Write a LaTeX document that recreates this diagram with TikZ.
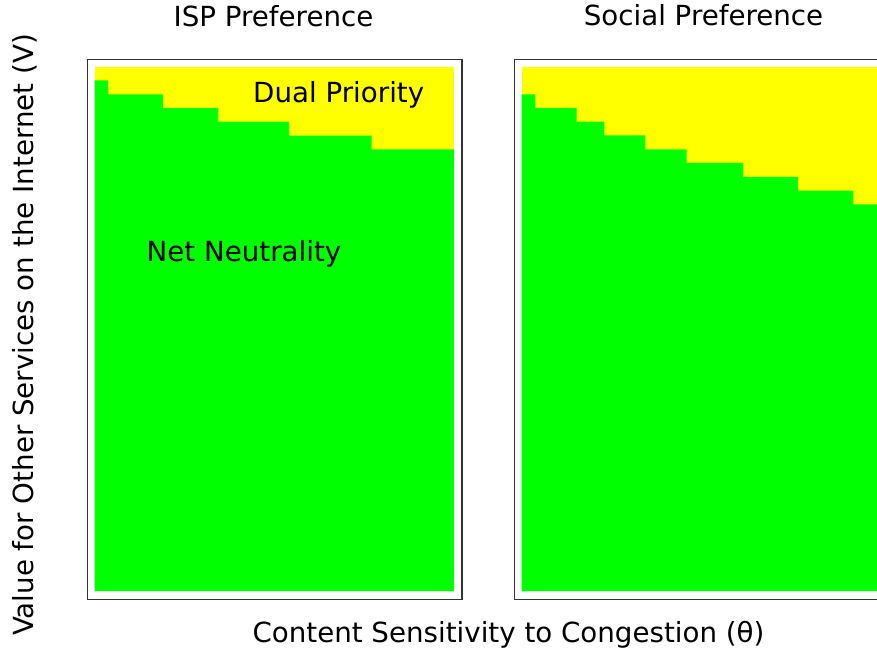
\documentclass[tikz,border=0pt]{standalone}
\usepackage{fontspec}
\setmainfont{DejaVu Sans}
\definecolor{dpyellow}{HTML}{FFFF00}
\definecolor{nngreen}{HTML}{00FF00}
\definecolor{framegray}{HTML}{333333}
\begin{document}
\begin{tikzpicture}[x=1pt,y=-1pt,
  lbl/.style={anchor=base,inner sep=0pt,font=\fontsize{27.7}{32}\selectfont},
  panelframe/.style={draw=framegray,line width=1.4pt},
  dualregion/.style={fill=dpyellow},
  nnregion/.style={fill=nngreen}]
\useasboundingbox (0,0) rectangle (877,655);
\clip (0,0) rectangle (877,655);
% left panel
\draw[panelframe] (87.3,59.7) rectangle (462,599.3);
\fill[dualregion] (94.7,66.7) rectangle (454,591);
\fill[nnregion] (94.7,591) -- (94.7,80.3) -- (108.3,80.3) -- (108.3,94.3) -- (163,94.3) -- (163,108) -- (218.3,108) -- (218.3,121.7) -- (289,121.7) -- (289,135.7) -- (371.7,135.7) -- (371.7,149.3) -- (454,149.3) -- (454,591) -- cycle;
% right panel
\draw[panelframe] (514.7,59.7) rectangle (900,599.3);
\fill[dualregion] (521.7,66.7) rectangle (890,591);
\fill[nnregion] (521.7,591) -- (521.7,94.3) -- (535.3,94.3) -- (535.3,108) -- (576.7,108) -- (576.7,121.7) -- (604.3,121.7) -- (604.3,135.3) -- (645.3,135.3) -- (645.3,149.3) -- (686.7,149.3) -- (686.7,163) -- (743.3,163) -- (743.3,177) -- (798,177) -- (798,190.7) -- (853.3,190.7) -- (853.3,204.3) -- (890,204.3) -- (890,591) -- cycle;
% labels
\node[lbl] (isp) at (273.5,26.5) {ISP Preference};
\node[lbl] (soc) at (703.5,25.5) {Social Preference};
\node[lbl] (dual) at (338.7,102.7) {Dual Priority};
\node[lbl] (nn) at (244,261.7) {Net Neutrality};
\node[lbl] (xlab) at (508.5,642) {Content Sensitivity to Congestion (θ)};
\node[lbl,rotate=90] (ylab) at (33,335) {Value for Other Services on the Internet (V)};
\end{tikzpicture}
\end{document}
